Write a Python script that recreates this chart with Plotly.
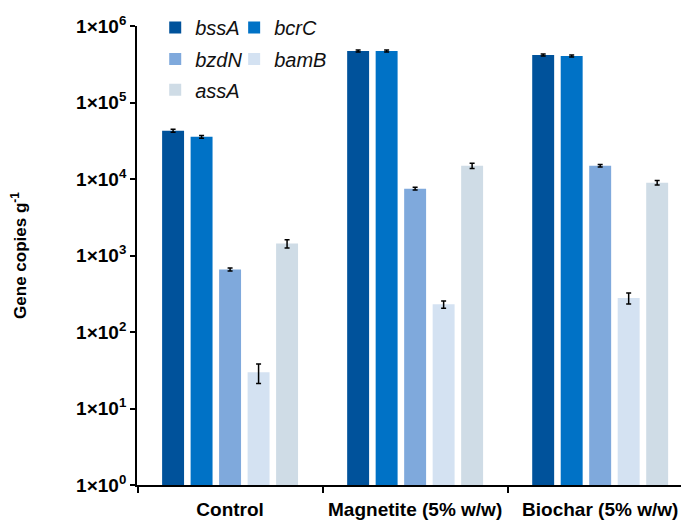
import plotly.graph_objects as go

categories = ["Control", "Magnetite (5% w/w)", "Biochar (5% w/w)"]
genes = ["bssA", "bcrC", "bzdN", "bamB", "assA"]
colors = ["#00529B", "#0072C6", "#7FA9DC", "#D4E2F2", "#CFDCE6"]

bssA = [42700, 472000, 418000]
bcrC = [35600, 472000, 405000]
bzdN = [656, 7480, 14900]
bamB = [29.8, 230, 278]
assA = [1430, 14900, 8960]

bssA_err = [2000, 15000, 12000]
bcrC_err = [1500, 15000, 12000]
bzdN_err = [30, 300, 600]
bamB_err = [8.5, 25, 45]
assA_err = [180, 1200, 600]

values = [bssA, bcrC, bzdN, bamB, assA]
errors = [bssA_err, bcrC_err, bzdN_err, bamB_err, assA_err]

# legend slot (column x in paper, row y in paper) for each gene
legend_x = [0.033, 0.176, 0.033, 0.176, 0.033]
legend_y = [0.9957, 0.9957, 0.926, 0.926, 0.859]

tick_vals = [1, 10, 100, 1000, 10000, 100000, 1000000]
tick_text = ["1×10<sup>%d</sup>" % i for i in range(7)]

fig = go.Figure()
legend_layout = {}
for i, (g, c, v, e) in enumerate(zip(genes, colors, values, errors)):
    lid = "legend" if i == 0 else "legend%d" % (i + 1)
    fig.add_trace(go.Bar(
        x=categories, y=v, name="<i>%s</i>" % g, marker=dict(color=c, line=dict(width=0)),
        error_y=dict(type="data", array=e, visible=True, color="black", thickness=1.5, width=2.5),
        legend=lid, showlegend=True,
    ))
    legend_layout[lid] = dict(
        orientation="h", xref="paper", yref="paper", x=legend_x[i], y=legend_y[i],
        xanchor="left", yanchor="middle", bgcolor="rgba(0,0,0,0)",
        font=dict(family="Liberation Sans, Arial", size=20, color="#111"),
        itemclick=False,
    )

# the page body has an 8px default margin, so the figure is offset by 8px
fig.update_layout(
    width=681, height=513,
    margin=dict(l=129, r=0, t=17, b=36),
    showlegend=True,
    paper_bgcolor="white", plot_bgcolor="white",
    barmode="group", bargap=0.23, bargroupgap=0.23,
    font=dict(family="Liberation Sans, Arial", color="black"),
    xaxis=dict(
        type="category", range=[-0.503, 2.48], showline=True, linecolor="black", linewidth=1.8,
        ticks="outside", tickson="boundaries", ticklen=6, tickwidth=1.5, tickcolor="black",
        tickfont=dict(size=19, weight="bold", color="black"), showgrid=False, zeroline=False,
        ticklabelstandoff=6, automargin=False,
    ),
    yaxis=dict(
        type="log", range=[0, 6], showline=True, linecolor="black", linewidth=1.8,
        ticks="outside", ticklen=5, tickwidth=1.5, tickcolor="black",
        tickvals=tick_vals, ticktext=tick_text,
        tickfont=dict(size=19, weight="bold", color="black"), showgrid=False, zeroline=False,
        title=dict(text="Gene copies g<sup>-1</sup>", font=dict(size=17, weight="bold", color="black"),
                   standoff=46),
        automargin=False,
    ),
    **legend_layout,
)

fig.write_html("out.html")
